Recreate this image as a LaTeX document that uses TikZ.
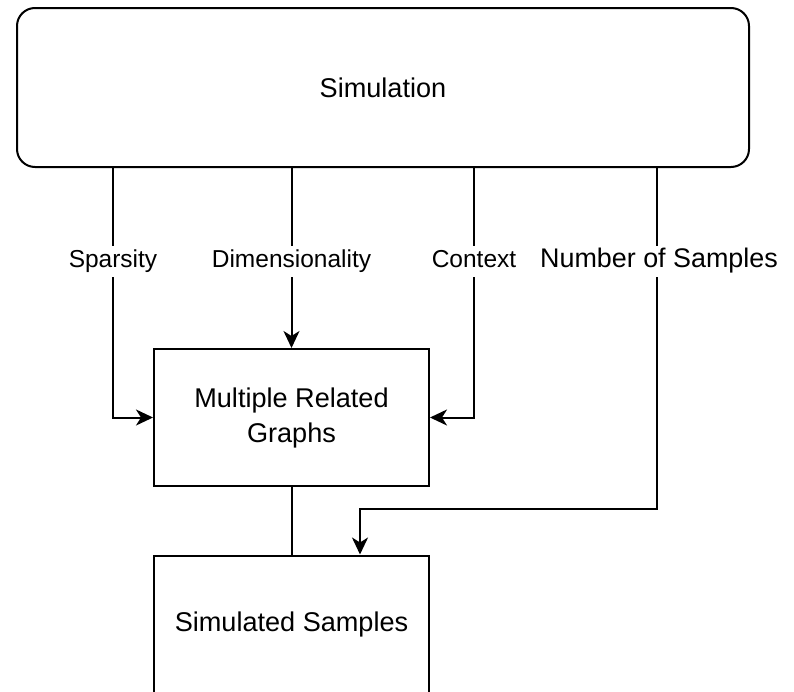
\documentclass[tikz,border=0pt]{standalone}
\usepackage{fontspec}
\setmainfont{Liberation Sans}
\usetikzlibrary{arrows.meta,backgrounds}

\tikzset{
  box/.style={draw=black, line width=2pt, minimum width=275pt, minimum height=137pt,
    align=center, inner sep=0pt, font=\fontsize{27.1}{35}\selectfont},
  simbox/.style={box, rounded corners=18pt, minimum width=732pt, minimum height=159pt},
  lbl/.style={fill=white, inner xsep=1pt, inner ysep=4pt, text height=18pt, text depth=5pt,
    font=\fontsize{24.5}{29}\selectfont},
  biglbl/.style={lbl, font=\fontsize{26.9}{32}\selectfont},
  wire/.style={draw=black, line width=2pt},
  arr/.style={wire, -{Stealth[length=17pt, width=16pt, inset=5pt]}}
}

\begin{document}
\begin{tikzpicture}[x=1pt, y=-1pt]
  \useasboundingbox (0,0) rectangle (794,691);
  \clip (0,0) rectangle (794,691);

  % blocks
  \node[simbox] (sim)  at (383,87.5)  {Simulation};
  \node[box]    (mrg)  at (291.5,417.5) {Multiple Related\\Graphs};
  \node[box]    (sims) at (291.5,624)   {Simulated Samples};

  % parameter labels sitting on the connectors
  \node[lbl]    (sp)  at (113,261)   {Sparsity};
  \node[lbl]    (dim) at (291.5,261) {Dimensionality};
  \node[lbl]    (ctx) at (474,261)   {Context};
  \node[biglbl] (nos) at (659,261)   {Number of Samples};

  \coordinate (drop) at (657,0);
  \coordinate (turn) at (360,509);

  % connectors run underneath the labels
  \begin{scope}[on background layer]
    \draw[arr] (sim.south -| sp) |- (mrg.west);
    \draw[arr] (sim.south -| dim) -- (mrg.north);
    \draw[arr] (sim.south -| ctx) |- (mrg.east);
    \draw[arr] (sim.south -| drop) |- (turn) -- (turn |- sims.north);
    \draw[wire] (mrg.south) -- (sims.north);
  \end{scope}
\end{tikzpicture}
\end{document}
